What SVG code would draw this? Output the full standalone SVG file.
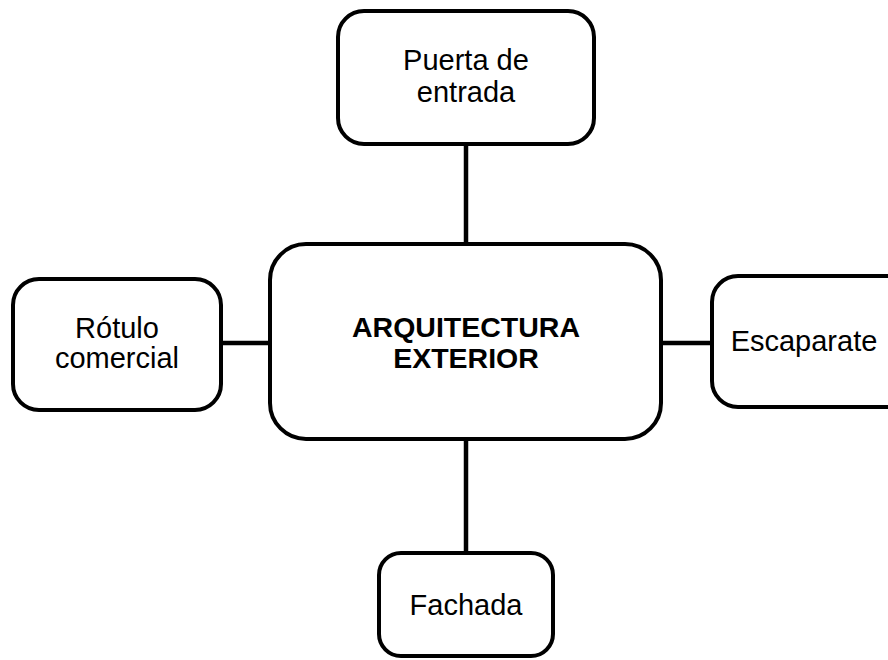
<svg xmlns="http://www.w3.org/2000/svg" width="888" height="660" viewBox="0 0 888 660">
<style>
.box{fill:#fff;stroke:#000;stroke-width:4}
.conn{stroke:#000;stroke-width:4.5;fill:none}
.t{font-family:"Liberation Sans",Arial,sans-serif;font-size:29px;fill:#000;text-anchor:middle}
.b{font-weight:bold;font-size:28.5px}
</style>
<rect width="888" height="660" fill="#fff"/>
<g id="connectors">
<line class="conn" x1="466" y1="146" x2="466" y2="242"/>
<line class="conn" x1="466" y1="440" x2="466" y2="552"/>
<line class="conn" x1="221" y1="343" x2="268" y2="343"/>
<line class="conn" x1="663" y1="343" x2="711" y2="343"/>
</g>
<g id="center">
<rect class="box" x="270" y="244" width="391" height="195" rx="36"/>
<text class="t b" x="466" y="337">ARQUITECTURA</text>
<text class="t b" x="466" y="368">EXTERIOR</text>
</g>
<g id="top">
<rect class="box" x="338" y="11" width="256" height="133" rx="26"/>
<text class="t" x="466" y="70">Puerta de</text>
<text class="t" x="466" y="102">entrada</text>
</g>
<g id="left">
<rect class="box" x="13" y="279" width="208" height="131" rx="26"/>
<text class="t" x="117" y="338">Rótulo</text>
<text class="t" x="117" y="368">comercial</text>
</g>
<g id="right">
<rect class="box" x="712" y="276" width="200" height="131" rx="26"/>
<text class="t" x="804" y="351">Escaparate</text>
</g>
<g id="bottom">
<rect class="box" x="379" y="553" width="174" height="103" rx="22"/>
<text class="t" x="466" y="615">Fachada</text>
</g>
</svg>
